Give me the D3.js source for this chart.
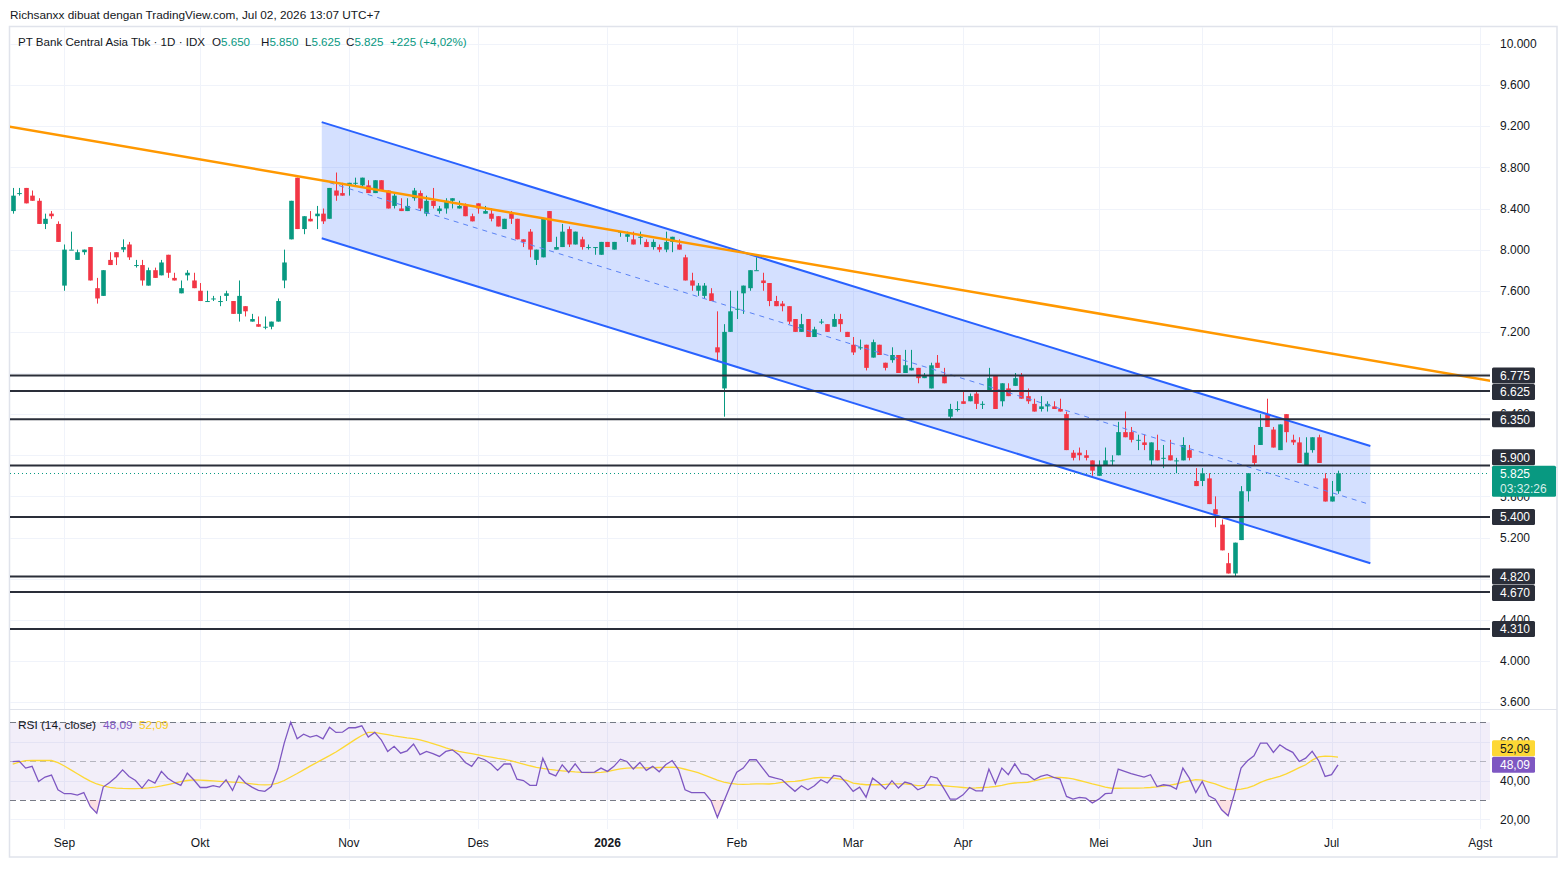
<!DOCTYPE html>
<html><head><meta charset="utf-8">
<script src="https://cdn.jsdelivr.net/npm/d3@7"></script>
<style>body{margin:0;background:#fff;} svg{display:block;font-family:"Liberation Sans",Arial,sans-serif;}</style>
</head><body><svg id="c" width="1567" height="874"></svg>
<script>
// ---------- DATA ----------
const opens = [
8375,8550,8600,8525,8475,8250,8350,8250,7650,8000,
7900,7975,8025,7625,7550,7900,7975,8000,8050,7850,
7850,7650,7800,7750,7950,7725,7575,7750,7700,7600,
7500,7525,7500,7550,7500,7375,7450,7300,7275,7250,
7250,7300,7700,8100,8700,8200,8300,8325,8350,8300,
8575,8550,8625,8650,8625,8625,8550,8675,8575,8425,
8400,8375,8500,8550,8350,8475,8375,8400,8475,8400,
8425,8325,8450,8350,8350,8325,8200,8350,8300,8100,
8175,7900,7925,8375,8000,8025,8200,8050,8100,8025,
8025,7950,8075,8000,8175,8125,8100,8125,8075,8025,
8025,8000,8075,8050,7925,7700,7600,7550,7575,7050,
6650,7200,7425,7575,7625,7800,7700,7675,7500,7475,
7450,7325,7200,7325,7150,7300,7275,7250,7325,7200,
7075,7050,7075,6950,7075,6900,6925,6975,6800,6825,
6850,6750,6650,6900,6775,6375,6450,6525,6525,6600,
6500,6625,6775,6525,6650,6675,6775,6575,6500,6450,
6475,6475,6450,6400,6025,6025,6000,5950,5800,5900,
5950,6000,6225,6225,6150,6125,5950,6050,5975,6000,
5950,5950,6050,5750,5750,5775,5475,5325,4950,4850,
5175,5650,6000,6100,6400,6250,6050,6400,6150,6125,
5900,6050,6175,5775,5550,5650];
const highs = [
8600,8600,8600,8575,8500,8350,8375,8275,8050,8175,
8000,8000,8025,7725,7800,7975,7975,8100,8075,7900,
7900,7825,7825,7900,7950,7775,7700,7800,7775,7675,
7600,7550,7550,7600,7500,7700,7450,7375,7350,7350,
7300,7525,8000,8475,8700,8325,8375,8425,8400,8600,
8750,8650,8650,8700,8700,8675,8675,8675,8575,8550,
8500,8500,8600,8575,8525,8600,8425,8500,8500,8475,
8450,8350,8450,8425,8400,8325,8300,8375,8300,8100,
8200,8000,8300,8375,8125,8250,8225,8175,8125,8050,
8025,8075,8075,8075,8175,8175,8175,8175,8100,8100,
8050,8175,8125,8100,7950,7775,7675,7675,7625,7400,
7275,7600,7600,7650,7800,7925,7775,7675,7550,7500,
7450,7325,7375,7325,7250,7325,7275,7375,7375,7200,
7150,7125,7075,7125,7075,6900,7050,6975,7025,7025,
6850,6800,6900,6975,6850,6500,6525,6625,6600,6625,
6525,6850,6775,6700,6700,6800,6800,6650,6550,6575,
6525,6525,6550,6425,6050,6075,6050,5950,5950,6075,
6000,6325,6425,6275,6200,6200,6125,6200,6100,6150,
5975,6175,6100,5875,5875,5825,5600,5375,5050,5150,
5700,5825,6100,6400,6550,6275,6300,6400,6200,6175,
6175,6175,6200,5825,5750,5850];
const lows = [
8350,8525,8450,8475,8250,8200,8300,8075,7600,8000,
7900,7950,7700,7475,7550,7850,7850,7975,7900,7825,
7650,7650,7725,7750,7725,7700,7575,7700,7625,7500,
7500,7500,7450,7500,7375,7300,7350,7300,7250,7225,
7225,7300,7625,8100,8200,8150,8275,8200,8250,8300,
8475,8525,8525,8625,8600,8550,8550,8575,8400,8400,
8375,8375,8475,8375,8325,8400,8350,8350,8400,8400,
8325,8275,8350,8350,8275,8225,8200,8250,8100,8025,
7925,7850,7925,8075,8000,8025,8025,8050,8000,8000,
7950,7950,8025,8000,8125,8075,8050,8050,8025,8000,
7975,7975,7975,8000,7700,7600,7550,7525,7500,6925,
6375,7200,7325,7375,7600,7800,7600,7450,7450,7400,
7275,7200,7200,7150,7150,7275,7200,7250,7200,7150,
6975,7025,6825,6950,6975,6825,6900,6800,6800,6825,
6700,6750,6650,6850,6700,6350,6425,6500,6525,6450,
6450,6625,6450,6475,6575,6675,6550,6500,6425,6425,
6425,6450,6425,6050,5950,5950,5950,5800,5800,5900,
5900,6000,6175,6125,6050,6050,5900,5950,5875,5950,
5825,5950,5950,5700,5700,5525,5300,5075,4850,4820,
5175,5550,5900,6100,6275,6075,6050,6125,6100,5925,
5900,6025,5925,5550,5550,5625];
const closes = [
8525,8550,8450,8475,8250,8300,8325,8075,8000,8000,
7975,8000,7700,7525,7800,7850,7925,8025,7925,7850,
7700,7800,7725,7875,7775,7700,7625,7775,7625,7500,
7500,7525,7500,7575,7375,7550,7400,7325,7250,7250,
7300,7500,7875,8475,8200,8325,8275,8350,8275,8600,
8525,8525,8650,8650,8700,8550,8675,8575,8400,8525,
8375,8425,8575,8400,8475,8425,8400,8475,8500,8425,
8325,8275,8400,8375,8300,8225,8300,8300,8100,8075,
8000,8000,8300,8075,8025,8175,8050,8175,8025,8025,
8025,8075,8025,8075,8175,8150,8050,8125,8025,8075,
8000,8075,8125,8000,7700,7650,7650,7650,7500,7000,
7200,7400,7425,7650,7800,7800,7675,7500,7450,7450,
7300,7200,7275,7150,7225,7300,7200,7325,7275,7150,
7000,7050,6850,7100,6975,6850,6975,6800,6875,6850,
6750,6775,6875,6850,6700,6450,6450,6500,6575,6500,
6500,6750,6450,6700,6575,6750,6550,6525,6425,6475,
6500,6450,6425,6050,5975,6000,5975,5850,5900,5950,
5950,6225,6175,6150,6150,6100,6125,5950,5975,5950,
5950,6100,5975,5700,5825,5525,5425,5075,4850,5150,
5650,5825,5925,6275,6275,6075,6300,6225,6125,5925,
6025,6175,5925,5550,5600,5825];
const rsiValues = [
49.7,50.0,46.4,47.3,39.5,41.8,42.8,35.2,33.2,33.2,
32.5,33.8,26.6,23.2,36.6,39.0,41.8,45.5,42.1,40.0,
36.1,40.4,38.7,44.7,41.2,39.0,37.5,43.8,40.4,36.4,
36.4,37.3,36.6,40.4,34.9,42.4,38.7,36.6,34.9,34.4,
36.9,45.9,59.3,70.1,61.5,63.9,62.4,63.2,61.5,67.4,
64.8,64.9,67.2,67.2,68.2,62.4,64.8,61.0,55.0,57.6,
54.1,55.3,58.8,53.3,55.0,53.8,52.4,55.0,55.8,53.3,
49.3,47.3,51.9,50.7,48.5,45.2,48.5,48.5,40.7,40.0,
37.5,37.5,51.5,43.8,42.4,48.1,44.2,48.6,44.2,44.2,
44.3,46.4,44.7,47.3,51.0,49.8,45.9,49.3,45.2,47.3,
44.5,48.1,50.3,45.5,35.2,33.8,33.8,33.8,29.7,21.0,
29.2,37.3,44.3,46.4,50.7,50.7,46.4,42.1,41.2,40.4,
37.3,34.4,37.3,35.2,37.3,40.4,38.7,42.6,42.1,38.5,
34.4,36.6,31.4,41.2,38.7,35.6,39.9,36.1,39.2,38.3,
35.2,36.6,42.1,41.2,36.1,30.4,30.4,32.6,36.4,34.7,
34.7,45.9,38.3,46.4,43.0,48.6,43.5,43.0,40.4,42.1,
43.0,41.6,40.7,31.8,30.4,31.3,30.9,28.4,30.4,33.2,
33.5,45.9,44.7,43.5,42.6,41.8,43.0,36.9,37.8,37.3,
35.6,46.4,41.2,33.8,39.5,32.1,30.4,24.9,21.8,33.5,
46.4,50.2,52.7,59.3,59.3,54.5,58.4,56.2,54.5,49.8,
51.5,55.0,50.2,42.1,43.0,48.09];
const rsiMAValues = [
48.5,49.5,50.2,50.3,50.3,50.3,50.3,49.2,47.5,45.5,
43.5,41.5,39.7,38.2,37.2,36.5,36.1,35.9,35.8,35.8,
35.9,36.2,36.6,37.2,37.9,38.6,39.4,40.0,40.3,40.2,
40.0,39.8,39.6,39.4,39.2,39.0,38.7,38.3,37.9,37.7,
37.9,38.6,40.0,41.8,43.6,45.5,47.4,49.2,51.0,52.8,
54.7,56.8,59.0,61.2,63.2,64.8,64.8,64.2,63.6,63.0,
62.5,62.0,61.6,61.0,60.0,59.0,58.0,56.8,55.8,55.0,
54.4,53.8,53.2,52.6,52.0,51.4,50.9,50.2,49.4,48.5,
47.6,46.8,46.2,45.7,45.3,45.0,44.7,44.4,44.2,44.1,
44.1,44.2,44.6,45.3,46.0,46.4,46.5,46.5,46.5,46.6,
46.7,46.8,46.9,46.6,45.8,45.0,44.0,42.8,41.5,40.2,
39.2,38.5,38.1,38.0,38.1,38.3,38.3,38.2,38.5,39.0,
39.4,39.6,40.0,40.7,41.3,41.6,41.5,41.2,40.7,40.0,
38.7,38.2,37.8,37.8,37.8,38.0,38.3,38.3,38.3,37.9,
37.4,37.5,37.8,37.6,37.3,37.0,36.7,36.4,36.1,36.2,
36.4,36.6,36.9,37.5,38.3,38.7,38.9,39.1,39.8,40.6,
41.4,41.6,41.6,41.3,40.8,40.0,39.2,38.3,37.5,36.6,
36.0,36.0,36.1,36.1,36.1,36.2,36.4,36.7,37.1,37.6,
38.2,39.2,39.8,40.4,40.2,39.2,38.2,37.0,35.8,35.2,
35.5,36.2,37.4,39.0,40.3,41.2,42.1,43.4,45.0,46.6,
48.1,50.5,52.2,52.6,52.4,52.09];
const monthLabels = ["Sep","Okt","Nov","Des","2026","Feb","Mar","Apr","Mei","Jun","Jul","Agst"];
const monthIndex  = [8,29,52,72,92,112,130,147,168,184,204,227];
const priceTicks = [3600,4000,4400,4800,5200,5600,6000,6400,6800,7200,7600,8000,8400,8800,9200,9600,10000];
const rsiTicks = [20,40,60];
const levels = [6775,6625,6350,5900,5400,4820,4670,4310];
const orangeLine = [[0,9190],[229,6720]];      // [bar index, price]
const channelUpper = [[47.8,9240],[210,6090]];
const channelLower = [[47.8,8110],[210,4950]];
const midStart = 49;
const countdown = "03:32:26";

// ---------- SETUP ----------
const svg = d3.select("#c");
const plotL = 10, plotR = 1490, mainT = 27, mainB = 709, rsiT = 710, rsiB = 829;
const N = closes.length;
const x = d3.scaleLinear().domain([0, N - 1]).range([12.7, 12.7 + (N - 1) * 6.465]);
const y = d3.scaleLinear().domain([3600, 10000]).range([702, 44]);
const yR = d3.scaleLinear().domain([30, 70]).range([799.9, 722.3]);
const fmtP = v => d3.format(",")(v).replace(/,/g, ".");
const fmtR = v => d3.format(".2f")(v).replace(".", ",");
const GREEN = "#089981", RED = "#f23645", GRID = "#f0f3fa", TXT = "#131722", LVL = "#2a2e39";

const defs = svg.append("defs");
defs.append("clipPath").attr("id", "cm").append("rect").attr("x", plotL).attr("y", mainT).attr("width", plotR - plotL).attr("height", mainB - mainT);
defs.append("clipPath").attr("id", "cr").append("rect").attr("x", plotL).attr("y", rsiT).attr("width", plotR - plotL).attr("height", rsiB - rsiT);
defs.append("clipPath").attr("id", "cOS").append("rect").attr("x", plotL).attr("y", yR(30)).attr("width", plotR - plotL).attr("height", rsiB - yR(30));
defs.append("clipPath").attr("id", "cOB").append("rect").attr("x", plotL).attr("y", rsiT).attr("width", plotR - plotL).attr("height", yR(70) - rsiT);

svg.append("rect").attr("width", 1567).attr("height", 874).attr("fill", "#fff");

// ---------- HEADER ----------
svg.append("text").attr("x", 10).attr("y", 18.5).attr("font-size", 11.8).attr("fill", TXT)
  .text("Richsanxx dibuat dengan TradingView.com, Jul 02, 2026 13:07 UTC+7");

svg.append("rect").attr("x", 9.5).attr("y", 26.5).attr("width", 1547.5).attr("height", 830.5)
  .attr("fill", "none").attr("stroke", "#e0e3eb").attr("stroke-width", 1.5);

// ---------- GRID ----------
const gGrid = svg.append("g");
gGrid.selectAll(".hg").data(priceTicks).join("line")
  .attr("x1", plotL).attr("x2", plotR).attr("y1", d => Math.round(y(d)) + 0.5).attr("y2", d => Math.round(y(d)) + 0.5)
  .attr("stroke", GRID);
gGrid.selectAll(".rg").data(rsiTicks).join("line")
  .attr("x1", plotL).attr("x2", plotR).attr("y1", d => Math.round(yR(d)) + 0.5).attr("y2", d => Math.round(yR(d)) + 0.5)
  .attr("stroke", GRID);
gGrid.selectAll(".vg").data(monthIndex).join("line")
  .attr("x1", d => Math.round(x(d)) + 0.5).attr("x2", d => Math.round(x(d)) + 0.5)
  .attr("y1", mainT).attr("y2", rsiB).attr("stroke", GRID);
svg.append("line").attr("x1", plotL).attr("x2", 1557).attr("y1", mainB + 0.5).attr("y2", mainB + 0.5).attr("stroke", "#e0e3eb");

// ---------- MAIN PANE ----------
const gM = svg.append("g").attr("clip-path", "url(#cm)");
const lineAt = (pts, i) => pts[0][1] + (i - pts[0][0]) * (pts[1][1] - pts[0][1]) / (pts[1][0] - pts[0][0]);

const cs = channelUpper[0][0], ce = channelUpper[1][0];
gM.append("path")
  .attr("d", d3.line()([[x(cs), y(lineAt(channelUpper, cs))], [x(ce), y(lineAt(channelUpper, ce))],
                        [x(ce), y(lineAt(channelLower, ce))], [x(cs), y(lineAt(channelLower, cs))]]) + "Z")
  .attr("fill", "rgba(41,98,255,0.2)");

const gC = gM.append("g");
d3.range(N).forEach(i => {
  const o = opens[i], c = closes[i], h = highs[i], l = lows[i];
  const col = c >= o ? GREEN : RED;
  const cx = Math.round(x(i)) + 0.5;
  gC.append("line").attr("x1", cx).attr("x2", cx).attr("y1", y(Math.max(h, o, c))).attr("y2", y(Math.min(l, o, c)))
    .attr("stroke", col).attr("stroke-width", 1);
  const top = y(Math.max(o, c)), bot = y(Math.min(o, c));
  gC.append("rect").attr("x", cx - 2.3).attr("width", 4.6).attr("y", top).attr("height", Math.max(1, bot - top)).attr("fill", col);
});

[channelUpper, channelLower].forEach(p => {
  gM.append("line").attr("x1", x(cs)).attr("y1", y(lineAt(p, cs))).attr("x2", x(ce)).attr("y2", y(lineAt(p, ce)))
    .attr("stroke", "#2962ff").attr("stroke-width", 2);
});
const mid = i => (lineAt(channelUpper, i) + lineAt(channelLower, i)) / 2;
gM.append("line").attr("x1", x(midStart)).attr("y1", y(mid(midStart))).attr("x2", x(ce)).attr("y2", y(mid(ce)))
  .attr("stroke", "#5b83f5").attr("stroke-width", 1).attr("stroke-dasharray", "5,5");

gM.append("line").attr("x1", x(-5)).attr("y1", y(lineAt(orangeLine, -5))).attr("x2", x(240)).attr("y2", y(lineAt(orangeLine, 240)))
  .attr("stroke", "#ff9800").attr("stroke-width", 2.5);

gM.selectAll(".lvl").data(levels).join("line")
  .attr("x1", plotL).attr("x2", plotR).attr("y1", d => y(d)).attr("y2", d => y(d))
  .attr("stroke", LVL).attr("stroke-width", 2);

const last = closes[N - 1];
gM.append("line").attr("x1", plotL).attr("x2", plotR).attr("y1", Math.round(y(last)) + 0.5).attr("y2", Math.round(y(last)) + 0.5)
  .attr("stroke", GREEN).attr("stroke-width", 1).attr("stroke-dasharray", "1,3");

// ---------- PRICE AXIS ----------
const gA = svg.append("g").attr("font-size", 12).attr("fill", TXT);
gA.selectAll("text").data(priceTicks).join("text")
  .attr("x", 1500).attr("y", d => y(d)).attr("dy", "0.35em").text(fmtP);

const curY = y(last), curTop = curY - 7.5, curBot = curY + 23.5;
let labs = levels.map(v => ({ v, cy: y(v) })).sort((a, b) => a.cy - b.cy);
labs.forEach(l => {
  if (l.cy + 8 > curTop && l.cy - 8 < curBot) l.cy = l.cy < curY ? curTop - 8.5 : curBot + 8.5;
});
for (let k = 1; k < labs.length; k++) if (labs[k].cy - labs[k - 1].cy < 16.5) labs[k].cy = labs[k - 1].cy + 16.5;
const gL = svg.append("g");
labs.forEach(l => {
  gL.append("rect").attr("x", 1492).attr("y", l.cy - 8).attr("width", 43).attr("height", 16).attr("rx", 1.5).attr("fill", LVL);
  gL.append("text").attr("x", 1500).attr("y", l.cy).attr("dy", "0.36em").attr("font-size", 12).attr("fill", "#fff").text(fmtP(l.v));
});
gL.append("rect").attr("x", 1492).attr("y", curTop).attr("width", 64).attr("height", curBot - curTop).attr("rx", 1.5).attr("fill", GREEN);
gL.append("text").attr("x", 1500).attr("y", curY).attr("dy", "0.36em").attr("font-size", 12).attr("fill", "#fff").text(fmtP(last));
gL.append("text").attr("x", 1500).attr("y", curY + 15.5).attr("dy", "0.36em").attr("font-size", 12).attr("fill", "rgba(255,255,255,0.85)").text(countdown);

// ---------- LEGEND ----------
const leg = svg.append("text").attr("x", 18).attr("y", 46).attr("font-size", 11.6).attr("fill", TXT);
leg.append("tspan").text("PT Bank Central Asia Tbk · 1D · IDX");
const ohlc = [["O", opens[N-1]], ["H", highs[N-1]], ["L", lows[N-1]], ["C", closes[N-1]]];
const ox = [212, 261, 305, 346];
ohlc.forEach((p, k) => {
  leg.append("tspan").attr("x", ox[k]).attr("fill", TXT).text(p[0]);
  leg.append("tspan").attr("fill", GREEN).text(fmtP(p[1]));
});
const chg = closes[N-1] - closes[N-2];
leg.append("tspan").attr("x", 390).attr("fill", GREEN)
  .text("+" + chg + " (+" + d3.format(".2f")(chg / closes[N-2] * 100).replace(".", ",") + "%)");

// ---------- RSI PANE ----------
const gR = svg.append("g").attr("clip-path", "url(#cr)");
gR.append("rect").attr("x", plotL).attr("width", plotR - plotL).attr("y", yR(70)).attr("height", yR(30) - yR(70))
  .attr("fill", "rgba(126,87,194,0.1)");
[70, 30].forEach(v => gR.append("line").attr("x1", plotL).attr("x2", plotR).attr("y1", Math.round(yR(v)) + 0.5).attr("y2", Math.round(yR(v)) + 0.5)
  .attr("stroke", "#787b86").attr("stroke-dasharray", "6,4"));
gR.append("line").attr("x1", plotL).attr("x2", plotR).attr("y1", Math.round(yR(50)) + 0.5).attr("y2", Math.round(yR(50)) + 0.5)
  .attr("stroke", "rgba(120,123,134,0.5)").attr("stroke-dasharray", "6,4");
const idx = d3.range(N);
gR.append("path").attr("clip-path", "url(#cOS)")
  .attr("d", d3.area().x(i => x(i)).y0(yR(30)).y1(i => yR(rsiValues[i]))(idx)).attr("fill", "rgba(242,54,69,0.15)");
gR.append("path").attr("clip-path", "url(#cOB)")
  .attr("d", d3.area().x(i => x(i)).y0(yR(70)).y1(i => yR(rsiValues[i]))(idx)).attr("fill", "rgba(8,153,129,0.15)");
gR.append("path").attr("d", d3.line().x(i => x(i)).y(i => yR(rsiMAValues[i]))(idx))
  .attr("fill", "none").attr("stroke", "#fdd835").attr("stroke-width", 1.3);
gR.append("path").attr("d", d3.line().x(i => x(i)).y(i => yR(rsiValues[i]))(idx))
  .attr("fill", "none").attr("stroke", "#7e57c2").attr("stroke-width", 1.3);

const rl = svg.append("text").attr("x", 18).attr("y", 729).attr("font-size", 11.8).attr("fill", TXT);
rl.append("tspan").text("RSI (14, close)");
rl.append("tspan").attr("x", 103).attr("fill", "#7e57c2").text(fmtR(rsiValues[N-1]));
rl.append("tspan").attr("x", 139).attr("fill", "#f9cc1c").text(fmtR(rsiMAValues[N-1]));

svg.append("g").attr("font-size", 12).attr("fill", TXT).selectAll("text").data(rsiTicks).join("text")
  .attr("x", 1500).attr("y", d => yR(d)).attr("dy", "0.35em").text(d => fmtR(d));
const rY = yR(rsiValues[N-1]);
svg.append("rect").attr("x", 1492).attr("y", rY - 8).attr("width", 43).attr("height", 16).attr("rx", 1.5).attr("fill", "#7e57c2");
svg.append("text").attr("x", 1500).attr("y", rY).attr("dy", "0.36em").attr("font-size", 12).attr("fill", "#fff").text(fmtR(rsiValues[N-1]));
const mY = rY - 16.5;
svg.append("rect").attr("x", 1492).attr("y", mY - 8).attr("width", 43).attr("height", 16).attr("rx", 1.5).attr("fill", "#fdd835");
svg.append("text").attr("x", 1500).attr("y", mY).attr("dy", "0.36em").attr("font-size", 12).attr("fill", TXT).text(fmtR(rsiMAValues[N-1]));

// ---------- TIME AXIS ----------
svg.append("g").attr("font-size", 12).attr("fill", TXT).selectAll("text").data(monthIndex).join("text")
  .attr("x", d => x(d)).attr("y", 843).attr("dy", "0.35em").attr("text-anchor", "middle")
  .attr("font-weight", (d, k) => monthLabels[k] === "2026" ? "bold" : null)
  .text((d, k) => monthLabels[k]);
</script></body></html>
